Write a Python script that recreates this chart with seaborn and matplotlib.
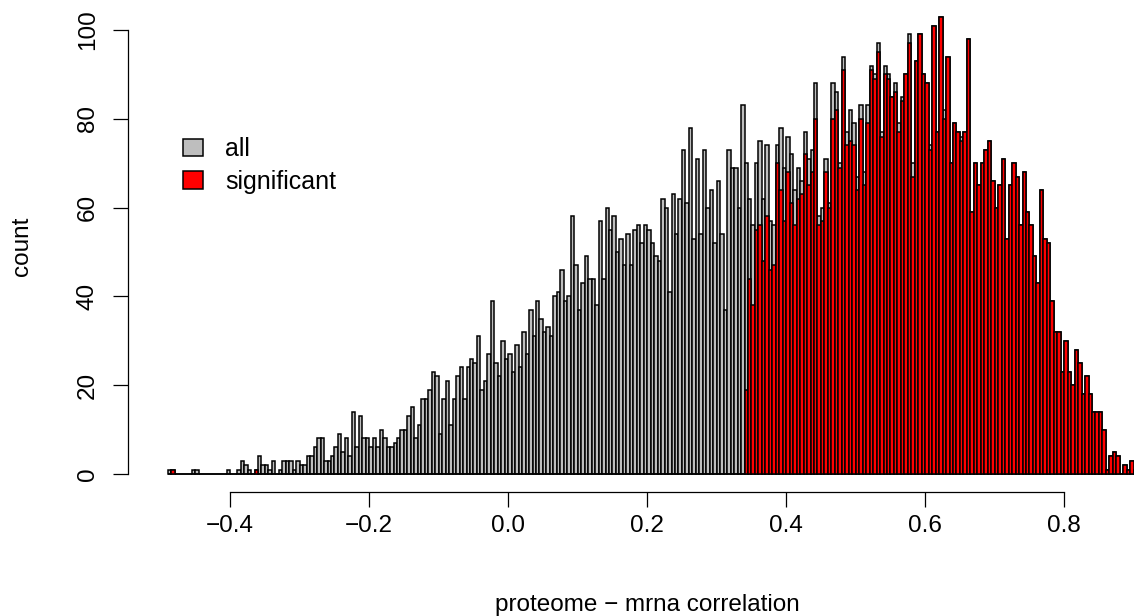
import numpy as np
import pandas as pd
import matplotlib
matplotlib.use("Agg")
import matplotlib.pyplot as plt
from matplotlib.patches import Patch
import seaborn as sns

# histogram bins: left edge and width of each bin
bin_start = -0.49
bin_width = 0.005

# counts per bin, all proteins
all_counts = [
    1, 1, 0, 0, 0, 0, 0, 1, 1, 0, 0, 0, 0, 0, 0, 0, 0, 1, 0, 0,
    1, 3, 2, 1, 0, 1, 4, 2, 2, 1, 3, 0, 1, 3, 3, 3, 1, 3, 2, 2,
    4, 4, 6, 8, 8, 3, 3, 4, 6, 9, 5, 8, 4, 14, 6, 13, 8, 8, 6, 8,
    6, 10, 8, 6, 6, 7, 8, 10, 10, 13, 15, 8, 11, 17, 17, 19, 23, 22, 9, 17,
    21, 11, 17, 22, 24, 17, 24, 26, 25, 31, 19, 21, 27, 39, 25, 22, 30, 26, 27, 23,
    29, 24, 32, 27, 37, 31, 39, 35, 32, 33, 31, 40, 41, 46, 39, 40, 58, 47, 37, 43,
    49, 44, 44, 38, 57, 44, 60, 55, 58, 50, 53, 47, 54, 47, 55, 56, 52, 56, 55, 52,
    49, 48, 62, 60, 41, 63, 54, 62, 73, 61, 78, 53, 71, 54, 73, 60, 64, 52, 66, 54,
    37, 73, 69, 69, 60, 83, 70, 62, 56, 70, 75, 62, 74, 57, 56, 74, 78, 69, 76, 72,
    64, 69, 66, 77, 71, 73, 88, 58, 60, 71, 61, 88, 86, 70, 94, 77, 82, 79, 67, 83,
    68, 83, 92, 90, 97, 77, 92, 90, 85, 88, 79, 85, 90, 99, 70, 93, 99, 90, 88, 74,
    101, 77, 103, 82, 94, 70, 79, 77, 76, 77, 98, 59, 70, 65, 70, 73, 75, 66, 60, 65,
    71, 53, 65, 70, 67, 56, 68, 59, 56, 49, 43, 64, 53, 52, 39, 32, 32, 23, 30, 23,
    20, 28, 25, 18, 22, 18, 14, 14, 14, 10, 1, 4, 5, 4, 0, 2, 1, 3, 1,
]

# counts per bin, significant only
sig_counts = [
    0, 1, 0, 0, 0, 0, 0, 0, 0, 0, 0, 0, 0, 0, 0, 0, 0, 0, 0, 0,
    0, 0, 0, 0, 0, 1, 0, 0, 0, 0, 0, 0, 0, 0, 0, 0, 0, 0, 0, 0,
    0, 0, 0, 0, 0, 0, 0, 0, 0, 0, 0, 0, 0, 0, 0, 0, 0, 0, 0, 0,
    0, 0, 0, 0, 0, 0, 0, 0, 0, 0, 0, 0, 0, 0, 0, 0, 0, 0, 0, 0,
    0, 0, 0, 0, 0, 0, 0, 0, 0, 0, 0, 0, 0, 0, 0, 0, 0, 0, 0, 0,
    0, 0, 0, 0, 0, 0, 0, 0, 0, 0, 0, 0, 0, 0, 0, 0, 0, 0, 0, 0,
    0, 0, 0, 0, 0, 0, 0, 0, 0, 0, 0, 0, 0, 0, 0, 0, 0, 0, 0, 0,
    0, 0, 0, 0, 0, 0, 0, 0, 0, 0, 0, 0, 0, 0, 0, 0, 0, 0, 0, 0,
    0, 0, 0, 0, 0, 0, 19, 44, 38, 55, 56, 48, 58, 46, 47, 70, 64, 57, 68, 61,
    56, 62, 63, 72, 65, 68, 80, 56, 57, 68, 60, 80, 82, 69, 91, 74, 75, 74, 64, 80,
    65, 79, 91, 89, 95, 76, 90, 89, 85, 86, 77, 84, 90, 97, 67, 93, 99, 90, 88, 73,
    101, 77, 103, 80, 94, 70, 79, 77, 75, 77, 98, 59, 70, 65, 70, 73, 75, 66, 60, 65,
    71, 53, 65, 70, 67, 56, 68, 59, 56, 49, 43, 64, 53, 52, 39, 32, 32, 23, 30, 23,
    20, 28, 25, 18, 22, 18, 14, 14, 14, 10, 1, 4, 5, 4, 0, 2, 1, 3, 1,
]

x_ticks = [-0.4, -0.2, 0.0, 0.2, 0.4, 0.6, 0.8]
x_tick_labels = ["\u22120.4", "\u22120.2", "0.0", "0.2", "0.4", "0.6", "0.8"]
y_ticks = [0, 20, 40, 60, 80, 100]
y_tick_labels = ["0", "20", "40", "60", "80", "100"]

edges = bin_start + bin_width * np.arange(len(all_counts) + 1)
df = pd.DataFrame({
    "corr": (edges[:-1] + edges[1:]) / 2,
    "all": all_counts,
    "significant": sig_counts,
})

sns.set_style("white")
plt.rcParams["font.family"] = ["Liberation Sans", "DejaVu Sans"]
plt.rcParams["text.color"] = "black"
plt.rcParams["axes.labelcolor"] = "black"
plt.rcParams["xtick.color"] = "black"
plt.rcParams["ytick.color"] = "black"
fs = 17.5
lw = 1.1

fig = plt.figure(figsize=(11.34, 6.16), dpi=100)
ax = fig.add_axes([128 / 1134, 1 - 492 / 616, 1006 / 1134, 492 / 616])

sns.histplot(data=df, x="corr", weights="all", bins=edges.tolist(), color="#BEBEBE",
             edgecolor="black", linewidth=lw, alpha=1, ax=ax)
sns.histplot(data=df, x="corr", weights="significant", bins=edges.tolist(), color="#FF0000",
             edgecolor="black", linewidth=lw, alpha=1, ax=ax)

ax.set_xlim(-0.54705, 0.90043)
ax.set_ylim(-4.054, 106.757)

# R style detached axes
for side in ["top", "right"]:
    ax.spines[side].set_visible(False)
for side in ["bottom", "left"]:
    ax.spines[side].set_color("black")
    ax.spines[side].set_linewidth(0.9)
ax.spines["bottom"].set_bounds(-0.4, 0.8)
ax.spines["left"].set_bounds(0, 100)

ax.set_xticks(x_ticks, x_tick_labels)
ax.set_yticks(y_ticks, y_tick_labels)
ax.tick_params(axis="both", length=10.5, width=0.9, colors="black",
               labelsize=fs, direction="out", bottom=True, left=True)
ax.tick_params(axis="x", pad=6)
ax.tick_params(axis="y", pad=10.5)
for lab in ax.get_yticklabels():
    lab.set_rotation(90)
    lab.set_va("center")

ax.set_xlabel("proteome \u2212 mrna correlation", fontsize=fs, color="black")
ax.xaxis.label.set_va("center")
ax.xaxis.set_label_coords(0.5164, -0.2297)
ax.set_ylabel("count", fontsize=fs, color="black")
ax.yaxis.label.set_va("center")
ax.yaxis.set_label_coords(-0.1054, 0.5)

handles = [Patch(facecolor="#BEBEBE", edgecolor="black", linewidth=lw, label="all"),
           Patch(facecolor="#FF0000", edgecolor="black", linewidth=lw, label="significant")]
leg = ax.legend(handles=handles, loc="upper left", bbox_to_anchor=(182.5 / 1134, 1 - 137.5 / 616),
                bbox_transform=fig.transFigure, frameon=False, fontsize=18,
                handlelength=0.8, handleheight=0.68, handletextpad=0.92,
                labelspacing=0.33, borderpad=0, borderaxespad=0)
for t in leg.get_texts():
    t.set_color("black")

fig.savefig("out.png", dpi=100)
